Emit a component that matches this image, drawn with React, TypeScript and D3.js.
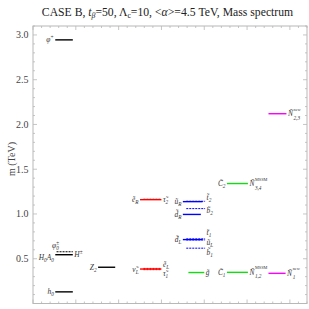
import React from "react";
import * as d3 from "d3";

// ---------- data ----------
const yTickLabels = ["0.5", "1.0", "1.5", "2.0", "2.5", "3.0"];
const yAxisTitle = "m (TeV)";

// one entry per level line
const lineIds = ["h0", "H0", "phi0", "phiP", "Z2", "eR", "tau2", "nuL", "eL", "tau1", "uR", "t2", "b2", "dR", "dL", "t1", "uL", "b1", "gl", "C1", "C2", "N1new", "N23new"];
const masses = [0.13, 0.545, 0.578, 2.945, 0.405, 1.16, 1.165, 0.385, 0.392, 0.378, 1.138, 1.142, 1.06, 0.995, 0.714, 0.722, 0.71, 0.618, 0.346, 0.348, 1.34, 0.337, 2.12];
const xStart = [0.52, 0.52, 0.55, 0.52, 1.52, 2.5, 2.58, 2.5, 2.58, 2.58, 3.5, 3.58, 3.58, 3.5, 3.5, 3.58, 3.58, 3.58, 3.63, 4.53, 4.53, 5.5, 5.5];
const xEnd = [0.93, 0.93, 0.93, 0.93, 1.92, 3.0, 3.0, 3.0, 3.0, 3.0, 3.96, 4.02, 4.02, 3.92, 3.96, 4.02, 4.02, 4.02, 4.0, 5.02, 5.02, 5.9, 5.92];
const groups = ["higgs", "higgs", "higgs", "higgs", "higgs", "slepton", "slepton", "slepton", "slepton", "slepton", "squark", "squark", "squark", "squark", "squark", "squark", "squark", "squark", "gaugino", "gaugino", "gaugino", "newN", "newN"];
const dashedFlags = [false, false, true, false, false, false, true, false, true, true, false, true, true, false, false, true, true, true, false, false, false, false, false];
// labels: [base, sub, sup, base2, sub2]
type Lab = string[] | null;
const leftLabels: Lab[] = [
  ["h", "0", ""], ["H", "0", "", "A", "0"], ["φ", "0", "±"], ["φ", "", "+"], ["Z", "2", ""],
  ["ẽ", "R", ""], null, ["ν̃", "L", ""], null, null,
  ["ũ", "R", ""], null, null, ["d̃", "R", ""], ["d̃", "L", ""], null, null, null,
  null, ["C̃", "1", ""], ["C̃", "2", ""], null, null,
];
const rightLabels: Lab[] = [
  null, ["H", "", "±"], null, null, null,
  null, ["τ̃", "2", ""], null, ["ẽ", "L", ""], ["τ̃", "1", ""],
  null, ["t̃", "2", ""], ["b̃", "2", ""], null, null, ["t̃", "1", ""], ["ũ", "L", ""], ["b̃", "1", ""],
  ["g̃", "", ""], ["Ñ", "1,2", "MSSM"], ["Ñ", "3,4", "MSSM"], ["Ñ", "1", "new"], ["Ñ", "2,3", "new"],
];

// ---------- styles / layout ----------
const W = 309, H = 309;
const frame = { left: 33, right: 307, top: 26, bottom: 303.5 };
const colors: Record<string, string> = {
  higgs: "#000000",
  slepton: "#ff0000",
  squark: "#0000ff",
  gaugino: "#11dd11",
  newN: "#ff00ff",
};
// small vertical nudges for crowded labels (px)
const rightNudge: Record<string, number> = { eL: -4, tau1: 4, t2: -4, b2: 2, t1: -6, uL: 3, b1: 4, H0: 0 };
const leftNudge: Record<string, number> = { phi0: -6, H0: 2.5 };
const leftShift: Record<string, number> = { phi0: 4 };
const serif = "'Liberation Serif', 'Times New Roman', serif";
const frameColor = "#b8b8b8";

const y = d3.scaleLinear().domain([0, 3.1]).range([frame.bottom, frame.top]);
const x = d3.scaleLinear().domain([0, 6.4]).range([frame.left, frame.right]);

const LABEL_FS = 7.4;
const SUB_FS = 5.2;

function RichLabel({ lab, px, py, anchor }: { lab: string[]; px: number; py: number; anchor: "start" | "end" }) {
  const [base, sub, sup, base2, sub2] = lab;
  const isN = base === "Ñ";
  if (sup && sub && anchor === "start") {
    const baseW = isN ? LABEL_FS * 0.75 : LABEL_FS * 0.6;
    return (
      <g fontFamily={serif} fontStyle="italic" fill="#333">
        <text x={px} y={py + 2.5} fontSize={LABEL_FS}>{base}</text>
        <text x={px + baseW} y={py - 3} fontSize={isN ? 4.3 : SUB_FS} fontStyle="normal">{sup}</text>
        <text x={px + baseW} y={py + 6} fontSize={SUB_FS}>{sub}</text>
      </g>
    );
  }
  const supW = sup.length * SUB_FS * 0.55;
  return (
    <text x={px} y={py + 2.5} fontSize={LABEL_FS} fontFamily={serif} fontStyle="italic" fill="#333" textAnchor={anchor}>
      {base}
      {sup ? <tspan fontSize={SUB_FS} dy={-3}>{sup}</tspan> : null}
      {sub ? <tspan fontSize={SUB_FS} dx={sup ? -supW : 0} dy={sup ? 5 : 2}>{sub}</tspan> : null}
      {base2 ? <tspan dy={-2}>{base2}</tspan> : null}
      {sub2 ? <tspan fontSize={SUB_FS} dy={2}>{sub2}</tspan> : null}
    </text>
  );
}

export default function App() {
  const majorY = d3.range(0, 3.11, 0.5);
  const minorY = d3.range(0, 3.11, 0.1);
  const minorX = d3.range(0, 6.41, 0.2);

  return (
    <svg width={W} height={H} style={{ position: "absolute", left: 0, top: 0, background: "#fff" }}>
      {/* title */}
      <text x={167.5} y={16} textAnchor="middle" fontFamily={serif} fontSize={11.7} fill="#222">
        CASE B, <tspan fontStyle="italic">t</tspan>
        <tspan fontSize={7.8} dy={2} fontStyle="italic">β</tspan>
        <tspan dy={-2}>=50, Λ</tspan>
        <tspan fontSize={7.8} dy={2}>c</tspan>
        <tspan dy={-2}>=10, &lt;</tspan>
        <tspan fontStyle="italic">α</tspan>
        <tspan>&gt;=4.5 TeV, Mass spectrum</tspan>
      </text>

      {/* frame */}
      <rect x={frame.left} y={frame.top} width={frame.right - frame.left} height={frame.bottom - frame.top} fill="none" stroke={frameColor} strokeWidth={1} />

      {/* y ticks */}
      {minorY.map((v, i) => {
        const isMajor = Math.abs(v / 0.5 - Math.round(v / 0.5)) < 1e-6;
        const len = isMajor ? 4 : 2;
        return (
          <g key={"yt" + i} stroke={frameColor} strokeWidth={0.8}>
            <line x1={frame.left} x2={frame.left + len} y1={y(v)} y2={y(v)} />
            <line x1={frame.right} x2={frame.right - len} y1={y(v)} y2={y(v)} />
          </g>
        );
      })}
      {/* x ticks */}
      {minorX.map((v, i) => {
        const isMajor = Math.abs(v - Math.round(v)) < 1e-6;
        const len = isMajor ? 4 : 2;
        return (
          <g key={"xt" + i} stroke={frameColor} strokeWidth={0.8}>
            <line x1={x(v)} x2={x(v)} y1={frame.bottom} y2={frame.bottom - len} />
            <line x1={x(v)} x2={x(v)} y1={frame.top} y2={frame.top + len} />
          </g>
        );
      })}
      {/* y tick labels */}
      {majorY.slice(1).map((v, i) => (
        <text key={"yl" + i} x={frame.left - 4.5} y={y(v) + 3.5} textAnchor="end" fontFamily={serif} fontSize={10} fill="#444">
          {yTickLabels[i]}
        </text>
      ))}
      {/* y axis title */}
      <text transform={`translate(14.5, 159) rotate(-90)`} textAnchor="middle" fontFamily={serif} fontSize={10} fill="#444">
        {yAxisTitle}
      </text>

      {/* level lines */}
      {lineIds.map((id, i) => {
        const yy = y(masses[i]);
        const dashed = dashedFlags[i];
        return (
          <line
            key={id}
            x1={x(xStart[i])}
            x2={x(xEnd[i])}
            y1={yy}
            y2={yy}
            stroke={colors[groups[i]]}
            strokeWidth={dashed ? 1 : 1.4}
            strokeDasharray={dashed ? "2,1" : undefined}
          />
        );
      })}

      {/* labels */}
      {lineIds.map((id, i) => {
        const yy = y(masses[i]);
        const l = leftLabels[i];
        const r = rightLabels[i];
        return (
          <g key={"lab" + id}>
            {l ? <RichLabel lab={l} px={x(xStart[i]) - 1.5 + (leftShift[id] || 0)} py={yy + (leftNudge[id] || 0)} anchor="end" /> : null}
            {r ? <RichLabel lab={r} px={x(xEnd[i]) + 1.5} py={yy + (rightNudge[id] || 0)} anchor="start" /> : null}
          </g>
        );
      })}
    </svg>
  );
}
